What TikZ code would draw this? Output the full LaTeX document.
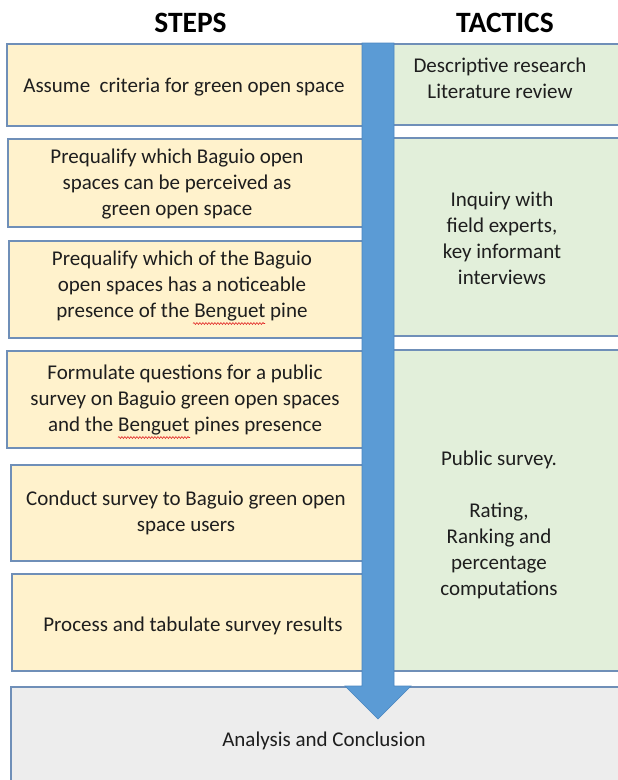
\documentclass[tikz,border=0pt]{standalone}
\usepackage{fontspec}
\setmainfont{Carlito}
\usetikzlibrary{decorations.pathmorphing}

\definecolor{stepfill}{HTML}{FFF2CC}
\definecolor{tacticfill}{HTML}{E2EFDA}
\definecolor{endfill}{HTML}{EDEDED}
\definecolor{boxline}{HTML}{6F8FB8}
\definecolor{flowblue}{HTML}{5B9BD5}
\definecolor{flowedge}{HTML}{4A86C0}
\definecolor{inktext}{HTML}{1E1E1E}
\definecolor{spellred}{HTML}{E02020}

\tikzset{
  stepbox/.style={draw=boxline, line width=1.1pt, fill=stepfill},
  tacticbox/.style={draw=boxline, line width=1.1pt, fill=tacticfill},
  endbox/.style={draw=boxline, line width=1.1pt, fill=endfill},
  heading/.style={font=\fontsize{29.5}{34}\selectfont\bfseries, text=black, inner sep=0pt},
  label/.style={font=\fontsize{21}{26}\selectfont, text=inktext, align=center,
    inner sep=0pt, execute at begin node=\strut, execute at end node=\strut},
  flow/.style={fill=flowblue, draw=flowedge, line width=0.6pt, line join=miter},
  spellmark/.style={draw=spellred, line width=0.6pt,
    decorate, decoration={snake, amplitude=0.9pt, segment length=3pt}}
}

\begin{document}
\begin{tikzpicture}[x=1pt, y=-1pt]
\useasboundingbox (0,0) rectangle (618,780);

% column headings
\node[heading] (hsteps) at (190.5,22.5) {STEPS};
\node[heading] (htactics) at (505,22.5) {TACTICS};

% step boxes (left column)
\draw[stepbox] (7,44) rectangle (372,126);
\draw[stepbox] (8,139) rectangle (372,227);
\draw[stepbox] (9,241) rectangle (372,338);
\draw[stepbox] (7,351) rectangle (372,448);
\draw[stepbox] (11,465) rectangle (372,561);
\draw[stepbox] (12,574) rectangle (372,671);

% tactic boxes (right column)
\draw[tacticbox] (388,44) rectangle (625,125);
\draw[tacticbox] (388,138) rectangle (625,336);
\draw[tacticbox] (388,350) rectangle (625,671);

% closing box
\draw[endbox] (11,687) rectangle (625,790);

% downward flow arrow
\draw[flow] (362,43) -- (394,43) -- (394,686) -- (411,686) -- (378,719)
  -- (345,686) -- (362,686) -- cycle;

% step texts
\node[label] (s1) at (184,87) {Assume\ \ criteria for green open space};
\node[label] (s2) at (177,186) {Prequalify which Baguio open\\spaces can be perceived as\\green open space};
\node[label] (s3) at (182,288) {Prequalify which of the Baguio\\open spaces has a noticeable\\presence of the Benguet pine};
\node[label] (s4) at (185,402) {Formulate questions for a public\\survey on Baguio green open spaces\\and the Benguet pines presence};
\node[label] (s5) at (186,515.5) {Conduct survey to Baguio green open\\space users};
\node[label] (s6) at (193,626) {Process and tabulate survey results};

% tactic texts
\node[label] (t1) at (500,82.5) {Descriptive research\\Literature review};
\node[label] (t2) at (502,242.5) {Inquiry with\\field experts,\\key informant\\interviews};
\node[label] (t3) at (499,527) {Public survey.\\[26pt]Rating,\\Ranking and\\percentage\\computations};

% closing text
\node[label] (a1) at (324,741) {Analysis and Conclusion};

% spell-check marks under "Benguet"
\draw[spellmark] (193,323.5) -- (265,323.5);
\draw[spellmark] (118,437.5) -- (190,437.5);
\end{tikzpicture}
\end{document}
